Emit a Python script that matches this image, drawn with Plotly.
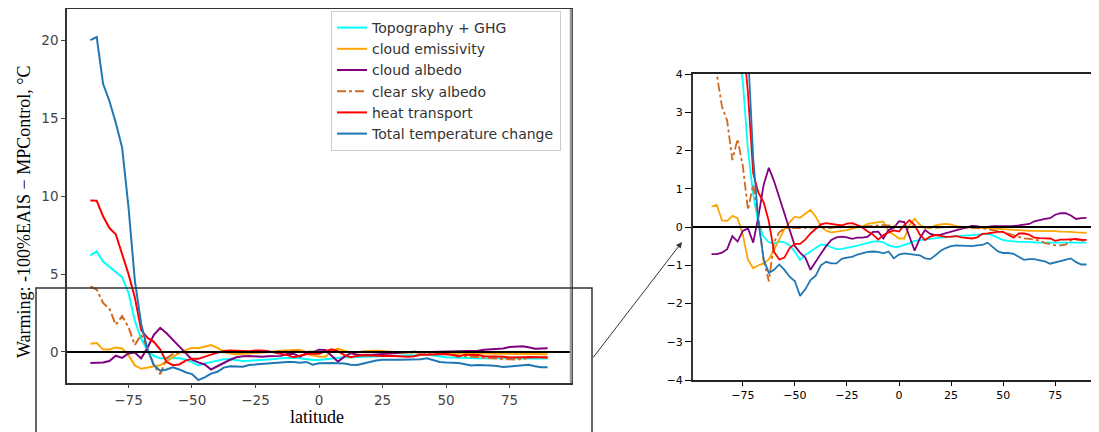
import plotly.graph_objects as go

lat = [-90, -87.5, -85, -82.5, -80, -77.5, -75, -72.5, -70, -67.5,
       -65, -62.5, -60, -57.5, -55, -52.5, -50, -47.5, -45, -42.5,
       -40, -37.5, -35, -32.5, -30, -27.5, -25, -22.5, -20, -17.5,
       -15, -12.5, -10, -7.5, -5, -2.5, 0, 2.5, 5, 7.5,
       10, 12.5, 15, 17.5, 20, 22.5, 25, 27.5, 30, 32.5,
       35, 37.5, 40, 42.5, 45, 47.5, 50, 52.5, 55, 57.5,
       60, 62.5, 65, 67.5, 70, 72.5, 75, 77.5, 80, 82.5,
       85, 87.5, 90]

topo_ghg = [6.2, 6.45, 5.8, 5.45, 5.15, 4.8, 3.8, 2.0, 0.85, 0.1,
            -0.25, -0.4, -0.43, -0.38, -0.4, -0.48, -0.65, -0.86, -0.73, -0.63,
            -0.55, -0.46, -0.47, -0.53, -0.58, -0.57, -0.55, -0.52, -0.49, -0.45,
            -0.4, -0.38, -0.37, -0.4, -0.48, -0.52, -0.52, -0.48, -0.42, -0.36,
            -0.34, -0.33, -0.32, -0.3, -0.28, -0.27, -0.25, -0.24, -0.23, -0.22,
            -0.22, -0.21, -0.19, -0.18, -0.22, -0.29, -0.34, -0.36, -0.38, -0.39,
            -0.39, -0.4, -0.4, -0.41, -0.41, -0.41, -0.41, -0.41, -0.41, -0.41,
            -0.41, -0.41, -0.41]

cloud_emissivity = [0.53, 0.58, 0.17, 0.16, 0.29, 0.23, -0.2, -0.86, -1.08, -1.0,
                    -0.95, -0.85, -0.6, -0.32, -0.05, 0.12, 0.27, 0.24, 0.35, 0.45,
                    0.27, 0.03, -0.1, -0.14, -0.12, -0.1, -0.08, -0.04, -0.01, 0.02,
                    0.08, 0.11, 0.13, 0.14, -0.12, -0.2, -0.3, -0.3, 0.05, 0.22,
                    0.06, -0.02, -0.03, 0.04, 0.07, 0.08, 0.06, 0.02, 0.0, -0.01,
                    -0.01, -0.01, -0.02, -0.03, -0.04, -0.06, -0.06, -0.07, -0.08, -0.09,
                    -0.09, -0.1, -0.1, -0.1, -0.11, -0.11, -0.11, -0.12, -0.12, -0.13,
                    -0.14, -0.15, -0.15]

cloud_albedo = [-0.71, -0.71, -0.67, -0.58, -0.24, -0.38, -0.1, -0.04, -0.41, 0.27,
                1.1, 1.55, 1.2, 0.78, 0.37, -0.1, -0.5, -0.67, -0.8, -1.12,
                -0.9, -0.7, -0.5, -0.34, -0.27, -0.25, -0.27, -0.31, -0.28, -0.28,
                -0.25, -0.13, -0.12, -0.3, -0.08, -0.02, 0.15, 0.13, -0.25, -0.62,
                -0.3, -0.08, -0.18, -0.21, -0.2, -0.16, -0.13, -0.07, -0.03, 0.0,
                0.03, 0.02, -0.01, 0.0, 0.02, 0.02, 0.02, 0.03, 0.03, 0.04,
                0.06, 0.08, 0.15, 0.19, 0.21, 0.23, 0.32, 0.36, 0.36, 0.3,
                0.21, 0.23, 0.24]

clear_sky_albedo = [4.2, 4.0, 3.15, 2.78, 1.75, 2.3, 1.6, 0.45, 1.1, 0.25,
                    -0.86, -1.42, -0.4, -0.14, -0.03, -0.02, -0.03, -0.03, -0.02, -0.02,
                    -0.01, -0.02, -0.03, -0.02, -0.01, 0.0, 0.01, 0.02, 0.02, 0.01,
                    0.02, 0.03, 0.04, 0.05, 0.04, 0.02, 0.01, 0.0, 0.01, 0.02,
                    0.0, -0.01, -0.02, -0.02, -0.01, 0.0, 0.0, -0.01, -0.02, -0.03,
                    -0.03, -0.03, -0.04, -0.05, -0.08, -0.1, -0.13, -0.17, -0.22, -0.27,
                    -0.3, -0.31, -0.33, -0.35, -0.42, -0.46, -0.48, -0.48, -0.46, -0.35,
                    -0.33, -0.35, -0.37]

heat_transport = [9.72, 9.7, 8.7, 7.95, 7.55, 6.3, 5.0, 3.5, 1.4, 0.9,
                  0.65, 0.15, -0.65, -0.85, -0.8, -0.55, -0.44, -0.44, -0.33, -0.17,
                  -0.04, 0.07, 0.1, 0.08, 0.07, 0.04, 0.09, 0.1, 0.05, -0.02,
                  -0.12, -0.2, -0.33, -0.21, -0.14, -0.09, -0.12, 0.05, 0.18, 0.05,
                  -0.2, -0.34, -0.25, -0.21, -0.23, -0.26, -0.25, -0.24, -0.27, -0.29,
                  -0.3, -0.27, -0.18, -0.17, -0.15, -0.13, -0.13, -0.2, -0.28, -0.17,
                  -0.17, -0.2, -0.28, -0.29, -0.3, -0.3, -0.36, -0.33, -0.33, -0.32,
                  -0.31, -0.33, -0.34]

total_change = [20.0, 20.2, 17.2, 16.1, 14.7, 13.1, 9.3, 4.6, 1.8, 0.15,
                -0.85, -1.2, -1.12, -0.98, -1.12, -1.3, -1.42, -1.8, -1.63, -1.39,
                -1.27, -1.0, -0.91, -0.95, -0.95, -0.83, -0.8, -0.78, -0.72, -0.68,
                -0.65, -0.64, -0.65, -0.69, -0.64, -0.82, -0.72, -0.69, -0.7, -0.72,
                -0.74, -0.82, -0.84, -0.74, -0.62, -0.55, -0.5, -0.48, -0.49, -0.5,
                -0.5, -0.48, -0.47, -0.41, -0.52, -0.64, -0.68, -0.68, -0.7, -0.78,
                -0.86, -0.84, -0.84, -0.87, -0.9, -0.96, -0.93, -0.88, -0.85, -0.82,
                -0.92, -0.98, -0.98]

series_names = ["Topography + GHG", "cloud emissivity", "cloud albedo",
                "clear sky albedo", "heat transport", "Total temperature change"]
series_values = [topo_ghg, cloud_emissivity, cloud_albedo,
                 clear_sky_albedo, heat_transport, total_change]
series_colors = ["#00FFFF", "#FFA500", "#800080", "#D2691E", "#FF0000", "#1F77B4"]
series_dash = ["solid", "solid", "solid", "dashdot", "solid", "solid"]

left_xticks = [-75, -50, -25, 0, 25, 50, 75]
left_yticks = [0, 5, 10, 15, 20]
right_yticks = [-4, -3, -2, -1, 0, 1, 2, 3, 4]

# The page body has an 8px default margin: size the figure to the remaining
# window and map target window pixels into figure paper coordinates.
OFF = 8
W, H = 1099 - OFF, 432 - OFF


def px_x(p):
    return (p - OFF) / W


def px_y(p):
    return 1 - (p - OFF) / H


fig = go.Figure()

for name, vals, col, dash in zip(series_names, series_values, series_colors, series_dash):
    fig.add_trace(go.Scatter(x=lat, y=vals, mode="lines", name=name,
                             line=dict(color=col, width=2, dash=dash),
                             xaxis="x", yaxis="y", showlegend=True))
for name, vals, col, dash in zip(series_names, series_values, series_colors, series_dash):
    fig.add_trace(go.Scatter(x=lat, y=vals, mode="lines", name=name,
                             line=dict(color=col, width=1.8, dash=dash),
                             xaxis="x2", yaxis="y2", showlegend=False))

tickfont_left = dict(family="DejaVu Sans", size=13.5, color="#444444")
tickfont_right = dict(family="DejaVu Sans", size=11, color="#000000")

fig.update_layout(
    template="none",
    width=W, height=H,
    margin=dict(l=0, r=0, t=0, b=0, pad=0),
    paper_bgcolor="white", plot_bgcolor="white",
    xaxis=dict(domain=[px_x(67), px_x(571)], range=[-99.2, 99.2], anchor="y",
               automargin=False,
               tickvals=left_xticks, showgrid=False, zeroline=False,
               showline=True, linecolor="#333333", linewidth=1.5, mirror=True,
               ticks="outside", ticklen=4, tickcolor="#444444", tickfont=tickfont_left),
    yaxis=dict(domain=[px_y(382.7), px_y(9)], range=[-1.97, 22.0], anchor="x",
               automargin=False,
               tickvals=left_yticks, showgrid=False, zeroline=False,
               showline=True, linecolor="#333333", linewidth=1.5, mirror=True,
               ticks="outside", ticklen=4, tickcolor="#444444", tickfont=tickfont_left),
    xaxis2=dict(domain=[px_x(693), 1.0], range=[-98.9, 96.0], anchor="y2",
                automargin=False,
                tickvals=left_xticks, showgrid=False, zeroline=False,
                showline=True, linecolor="#222222", linewidth=1.5, mirror=True,
                ticks="outside", ticklen=4, tickcolor="#000000", tickfont=tickfont_right),
    yaxis2=dict(domain=[px_y(380), px_y(74)], range=[-4, 4], anchor="x2",
                automargin=False,
                tickvals=right_yticks, showgrid=False, zeroline=False,
                showline=True, linecolor="#333333", linewidth=2, mirror=False,
                ticks="outside", ticklen=6, tickcolor="#000000", tickfont=tickfont_right),
    legend=dict(x=px_x(331), y=px_y(11), xanchor="left", yanchor="top",
                bgcolor="white", bordercolor="#CCCCCC", borderwidth=1,
                font=dict(family="DejaVu Sans", size=14, color="#333333"),
                itemwidth=30),
    showlegend=True,
)

# zero reference lines
fig.add_shape(type="line", xref="x domain", yref="y", x0=0, x1=1, y0=0, y1=0,
              line=dict(color="black", width=2))
fig.add_shape(type="line", xref="x2 domain", yref="y2", x0=0, x1=1, y0=0, y1=0,
              line=dict(color="black", width=2))
# lighter right spine of left panel
fig.add_shape(type="line", xref="paper", yref="paper", x0=px_x(571), x1=px_x(571),
              y0=px_y(382.7), y1=px_y(9), line=dict(color="#999999", width=2.5))
# zoom box on left panel
fig.add_shape(type="rect", xref="paper", yref="paper", x0=px_x(36), x1=px_x(592),
              y0=px_y(445), y1=px_y(288), line=dict(color="#333333", width=1.5),
              fillcolor="rgba(0,0,0,0)")

# axis titles
fig.add_annotation(text="latitude", xref="paper", yref="paper", x=px_x(317), y=px_y(417),
                   xanchor="center", yanchor="middle", showarrow=False, borderpad=0,
                   font=dict(family="Liberation Serif", size=18, color="black"))
fig.add_annotation(text="Warming: -100%EAIS − MPControl, °C", xref="paper", yref="paper",
                   x=px_x(24), y=px_y(212), xanchor="center", yanchor="middle",
                   textangle=-90, showarrow=False,
                   font=dict(family="Liberation Serif", size=18, color="black"))

# arrow from zoom box to zoomed panel
fig.add_annotation(text="", xref="paper", yref="paper", x=px_x(682), y=px_y(242),
                   ax=592 - 682, ay=359 - 242, showarrow=True, arrowhead=2,
                   arrowsize=1.2, arrowwidth=1, arrowcolor="#333333")

fig.write_html("out.html")
